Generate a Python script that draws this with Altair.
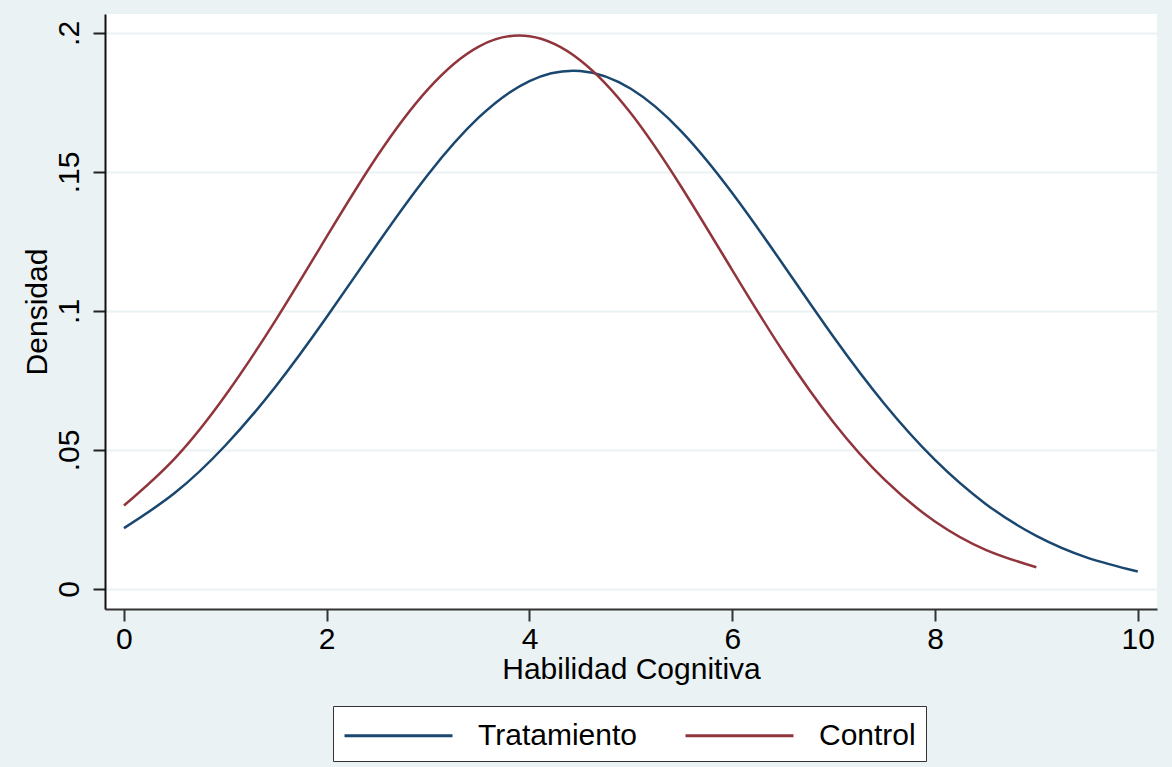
import altair as alt
import pandas as pd

# Kernel-density style curves of "Habilidad Cognitiva" by group
x_tratamiento = [0, 0.5, 1, 1.5, 2, 2.5, 3, 3.5, 4, 4.5, 5, 5.5, 6, 6.5, 7, 7.5, 8, 8.5, 9, 9.5, 10]
y_tratamiento = [0.0219, 0.0345, 0.0516, 0.0730, 0.0978, 0.1241, 0.1491, 0.1696, 0.1827, 0.1863,
                 0.1799, 0.1645, 0.1424, 0.1168, 0.0906, 0.0666, 0.0464, 0.0306, 0.0191, 0.0113, 0.0063]

x_control = [0, 0.5, 1, 1.5, 2, 2.5, 3, 3.5, 4, 4.5, 5, 5.5, 6, 6.5, 7, 7.5, 8, 8.5, 9]
y_control = [0.0300, 0.0469, 0.0696, 0.0969, 0.1267, 0.1558, 0.1798, 0.1951, 0.1988, 0.1902,
             0.1711, 0.1445, 0.1147, 0.0855, 0.0599, 0.0394, 0.0243, 0.0141, 0.0078]

groups = ["Tratamiento", "Control"]
colors = ["#1A476F", "#90353B"]

x_ticks = [0, 2, 4, 6, 8, 10]
y_ticks = [0, 0.05, 0.1, 0.15, 0.2]

df = pd.concat([
    pd.DataFrame({"x": x_tratamiento, "densidad": y_tratamiento, "grupo": groups[0]}),
    pd.DataFrame({"x": x_control, "densidad": y_control, "grupo": groups[1]}),
])

FONT = "Liberation Sans"

chart = alt.Chart(df).mark_line(strokeWidth=2.5, interpolate="natural").encode(
    x=alt.X(
        "x:Q",
        scale=alt.Scale(domain=[-0.187, 10.19], nice=False, zero=False),
        axis=alt.Axis(
            title="Habilidad Cognitiva",
            values=x_ticks,
            grid=False,
            tickSize=12,
            tickWidth=2,
            tickColor="#333333",
            domainColor="#333333",
            domainWidth=2,
            labelBaseline="alphabetic",
            labelPadding=27,
            labelFontSize=30,
            labelFont=FONT,
            labelColor="#000000",
            titleFontSize=30,
            titleFont=FONT,
            titleFontWeight="normal",
            titleColor="#000000",
            titleBaseline="alphabetic",
            titleY=69,
        ),
    ),
    y=alt.Y(
        "densidad:Q",
        scale=alt.Scale(domain=[-0.0072, 0.2068], nice=False, zero=False),
        axis=alt.Axis(
            title="Densidad",
            values=y_ticks,
            labelExpr="datum.value == 0 ? '0' : slice(format(datum.value, '.2~f'), 1)",
            grid=True,
            gridColor="#EAF2F3",
            gridWidth=2,
            tickSize=12,
            tickWidth=2,
            tickColor="#222222",
            domainColor="#111111",
            domainWidth=2,
            labelAngle=270,
            labelAlign="center",
            labelBaseline="alphabetic",
            labelPadding=15,
            labelFontSize=30,
            labelFont=FONT,
            labelColor="#000000",
            titleFontSize=30,
            titleFont=FONT,
            titleFontWeight="normal",
            titleColor="#000000",
            titleAngle=270,
            titleAlign="center",
            titleBaseline="alphabetic",
            titleX=-59,
            titleY=297.5,
        ),
    ),
    color=alt.Color(
        "grupo:N",
        scale=alt.Scale(domain=groups, range=colors),
        sort=groups,
        legend=alt.Legend(
            title=None,
            orient="none",
            legendX=228,
            legendY=692,
            direction="horizontal",
            symbolType="M-1,0H5",
            symbolSize=1296,
            symbolStrokeWidth=3,
            labelOffset=96,
            columnPadding=42,
            labelFontSize=30,
            labelFont=FONT,
            labelColor="#000000",
            padding=10,
            fillColor="#FFFFFF",
            strokeColor="#333333",
        ),
    ),
).properties(
    width=1052,
    height=595,
    padding={"left": 105, "top": 14, "right": 15, "bottom": 158},
    autosize=alt.AutoSizeParams(type="none"),
    background="#EAF2F3",
).configure_view(
    fill="#FFFFFF",
    strokeWidth=0,
)

chart.save("out.html", embed_options={"renderer": "svg", "actions": False})
